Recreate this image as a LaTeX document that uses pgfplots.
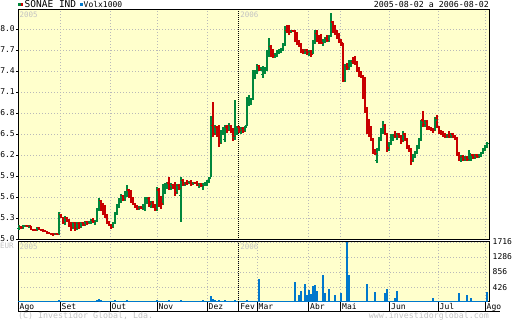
\documentclass[border=0pt]{standalone}
\usepackage{fontspec}
\setmainfont{DejaVu Sans Mono}
\usepackage{pgfplots}
\usepackage{pgfplotstable}
\pgfplotsset{compat=1.18}
\definecolor{bgy}{RGB}{255,255,204}
\definecolor{upg}{RGB}{0,135,60}
\definecolor{dnr}{RGB}{200,0,0}
\definecolor{volb}{RGB}{0,120,204}
\definecolor{gridg}{RGB}{185,185,185}
\definecolor{lgt}{RGB}{195,195,195}

\pgfdeclareplotmark{ohlco}{\pgfpathmoveto{\pgfqpoint{-1.6pt}{0pt}}\pgfpathlineto{\pgfqpoint{0pt}{0pt}}\pgfusepathqstroke}
\pgfdeclareplotmark{ohlcc}{\pgfpathmoveto{\pgfqpoint{0pt}{0pt}}\pgfpathlineto{\pgfqpoint{1.6pt}{0pt}}\pgfusepathqstroke}

\pgfplotstableread{
x o h l c v
19 5.15 5.20 5.13 5.18 30
21 5.18 5.19 5.15 5.16 25
23 5.16 5.20 5.15 5.19 35
25 5.19 5.20 5.17 5.19 20
27 5.19 5.20 5.17 5.18 30
29 5.18 5.20 5.16 5.19 25
31 5.19 5.19 5.13 5.14 40
33 5.14 5.15 5.12 5.13 20
35 5.13 5.14 5.12 5.12 25
37 5.12 5.17 5.12 5.16 35
39 5.16 5.17 5.13 5.14 20
41 5.14 5.15 5.12 5.13 30
43 5.13 5.14 5.11 5.12 25
45 5.12 5.13 5.10 5.11 20
47 5.11 5.11 5.08 5.09 30
49 5.09 5.10 5.07 5.08 25
51 5.08 5.09 5.06 5.07 20
53 5.07 5.08 5.05 5.06 35
55 5.06 5.09 5.06 5.08 25
57 5.08 5.09 5.06 5.07 30
59 5.07 5.38 5.06 5.35 55
61 5.35 5.36 5.30 5.31 40
63 5.31 5.32 5.22 5.24 30
65 5.24 5.33 5.20 5.30 35
67 5.30 5.31 5.25 5.27 25
69 5.27 5.28 5.17 5.19 30
71 5.24 5.25 5.11 5.16 40
73 5.16 5.25 5.14 5.24 25
75 5.24 5.25 5.12 5.15 30
77 5.15 5.24 5.13 5.22 20
79 5.22 5.24 5.15 5.17 35
81 5.17 5.24 5.16 5.23 25
83 5.23 5.24 5.18 5.20 30
85 5.20 5.26 5.19 5.25 20
87 5.25 5.26 5.20 5.22 25
89 5.22 5.26 5.21 5.25 30
91 5.25 5.28 5.22 5.27 25
93 5.27 5.30 5.24 5.25 35
95 5.25 5.27 5.20 5.26 30
97 5.26 5.45 5.25 5.43 60
99 5.42 5.59 5.40 5.55 75
101 5.55 5.56 5.40 5.44 45
103 5.44 5.52 5.35 5.38 35
105 5.38 5.48 5.30 5.33 40
107 5.33 5.36 5.22 5.24 30
109 5.24 5.26 5.18 5.20 35
111 5.20 5.22 5.15 5.17 30
113 5.17 5.25 5.16 5.23 25
115 5.23 5.38 5.22 5.36 45
117 5.36 5.50 5.34 5.48 35
119 5.48 5.58 5.45 5.55 30
121 5.55 5.64 5.52 5.62 40
123 5.62 5.63 5.55 5.57 25
125 5.57 5.68 5.55 5.66 30
127 5.62 5.77 5.60 5.70 45
129 5.70 5.72 5.58 5.60 30
131 5.60 5.70 5.52 5.56 25
133 5.56 5.60 5.48 5.50 35
135 5.50 5.52 5.44 5.46 30
137 5.46 5.48 5.42 5.44 20
139 5.44 5.47 5.42 5.45 25
141 5.45 5.47 5.43 5.44 30
143 5.44 5.50 5.42 5.48 25
145 5.48 5.60 5.40 5.56 35
147 5.56 5.60 5.50 5.58 30
149 5.58 5.60 5.46 5.50 40
151 5.50 5.55 5.44 5.52 25
153 5.52 5.54 5.44 5.48 30
155 5.48 5.50 5.40 5.42 35
157 5.42 5.74 5.40 5.70 50
159 5.70 5.73 5.46 5.52 40
161 5.52 5.62 5.43 5.50 30
163 5.50 5.78 5.48 5.75 35
165 5.75 5.80 5.65 5.78 25
167 5.78 5.82 5.72 5.80 30
169 5.80 5.88 5.70 5.74 45
171 5.74 5.80 5.70 5.78 25
173 5.78 5.79 5.72 5.74 30
175 5.74 5.82 5.62 5.66 35
177 5.66 5.78 5.64 5.76 30
179 5.76 5.78 5.70 5.72 25
181 5.62 5.88 5.25 5.84 70
183 5.84 5.86 5.76 5.78 35
185 5.78 5.82 5.76 5.80 40
187 5.80 5.84 5.77 5.79 25
189 5.79 5.83 5.78 5.82 30
191 5.82 5.84 5.76 5.78 25
193 5.78 5.82 5.77 5.81 30
195 5.81 5.82 5.78 5.80 20
197 5.80 5.83 5.76 5.77 35
199 5.77 5.80 5.73 5.79 25
201 5.79 5.80 5.74 5.76 30
203 5.76 5.80 5.70 5.78 55
205 5.78 5.82 5.76 5.80 30
207 5.80 5.85 5.76 5.83 35
209 5.83 5.89 5.80 5.86 40
211 5.88 6.75 5.88 6.62 160
213 6.62 6.96 6.46 6.50 95
215 6.50 6.63 6.48 6.60 60
217 6.60 6.62 6.45 6.48 40
219 6.48 6.63 6.31 6.36 50
221 6.36 6.55 6.35 6.52 35
223 6.52 6.60 6.48 6.58 30
225 6.42 6.63 6.38 6.60 45
227 6.60 6.63 6.52 6.55 30
229 6.55 6.66 6.54 6.62 35
231 6.62 6.63 6.52 6.56 25
233 6.56 6.58 6.40 6.46 40
235 6.45 6.99 6.41 6.54 55
237 6.54 6.62 6.48 6.60 30
239 6.60 6.62 6.52 6.55 25
241 6.55 6.60 6.50 6.58 30
243 6.58 6.60 6.52 6.54 25
245 6.54 6.62 6.53 6.60 35
247 6.62 7.03 6.62 6.95 45
249 6.95 7.05 6.90 6.98 30
251 6.98 7.02 6.92 6.99 35
253 7.00 7.41 6.98 7.30 40
255 7.30 7.42 7.28 7.38 30
257 7.38 7.50 7.36 7.48 35
259 7.48 7.49 7.40 7.42 668
261 7.42 7.46 7.40 7.44 15
263 7.35 7.47 7.30 7.44 15
265 7.42 7.46 7.36 7.45 15
267 7.45 7.70 7.40 7.66 15
269 7.66 7.87 7.60 7.75 15
271 7.75 7.77 7.60 7.64 15
273 7.64 7.72 7.58 7.62 15
275 7.62 7.66 7.59 7.64 15
277 7.64 7.70 7.60 7.68 15
279 7.68 7.72 7.64 7.70 15
281 7.70 7.73 7.66 7.71 15
283 7.71 7.80 7.68 7.78 15
285 7.78 8.04 7.76 7.98 15
287 7.98 8.06 7.94 7.96 15
289 8.00 8.06 7.92 7.95 15
291 7.95 7.99 7.94 7.98 15
293 7.98 7.99 7.95 7.97 15
295 7.97 7.98 7.82 7.85 563
297 7.85 7.96 7.77 7.80 15
299 7.80 7.84 7.74 7.76 190
301 7.76 7.80 7.66 7.70 305
303 7.70 7.72 7.64 7.68 15
305 7.68 7.72 7.64 7.70 505
307 7.70 7.72 7.63 7.66 190
309 7.66 7.70 7.62 7.68 333
311 7.68 7.70 7.60 7.64 220
313 7.64 7.84 7.64 7.80 448
315 7.80 7.98 7.78 7.94 477
317 7.94 7.98 7.82 7.86 305
319 7.86 7.92 7.78 7.82 15
321 7.88 7.93 7.78 7.80 15
323 7.80 7.86 7.76 7.82 763
325 7.82 7.88 7.80 7.86 257
327 7.86 7.91 7.81 7.84 15
329 7.84 7.92 7.82 7.90 362
331 7.90 8.23 7.88 8.10 15
333 8.10 8.12 7.94 7.98 15
335 7.98 8.05 7.92 7.96 190
337 7.96 7.98 7.86 7.90 15
339 7.90 7.94 7.80 7.84 15
341 7.84 7.86 7.76 7.80 257
343 7.78 7.80 7.24 7.26 15
345 7.26 7.50 7.24 7.46 15
347 7.46 7.52 7.42 7.45 1716
349 7.45 7.55 7.42 7.52 763
351 7.52 7.56 7.45 7.54 15
353 7.54 7.60 7.50 7.52 15
355 7.56 7.62 7.48 7.50 15
357 7.50 7.54 7.38 7.42 15
359 7.42 7.46 7.32 7.36 15
361 7.36 7.40 7.30 7.32 15
363 7.32 7.34 7.00 7.05 15
365 7.05 7.32 6.80 6.86 15
367 6.86 6.88 6.50 6.55 505
369 6.70 6.72 6.46 6.50 15
371 6.50 6.62 6.40 6.42 15
373 6.42 6.44 6.22 6.26 15
375 6.26 6.28 6.20 6.22 276
377 6.12 6.30 6.08 6.28 15
379 6.28 6.46 6.26 6.42 15
381 6.42 6.58 6.40 6.56 15
383 6.56 6.68 6.50 6.62 15
385 6.62 6.64 6.48 6.50 248
387 6.50 6.52 6.24 6.30 362
389 6.30 6.38 6.26 6.36 15
391 6.36 6.50 6.34 6.46 15
393 6.46 6.50 6.40 6.48 15
395 6.48 6.54 6.44 6.46 105
397 6.46 6.52 6.42 6.50 305
399 6.50 6.52 6.44 6.46 15
401 6.46 6.48 6.36 6.40 15
403 6.40 6.54 6.38 6.50 15
405 6.50 6.52 6.40 6.42 15
407 6.42 6.44 6.28 6.32 15
409 6.32 6.34 6.24 6.28 15
411 6.28 6.30 6.06 6.12 15
413 6.12 6.22 6.10 6.18 15
415 6.18 6.26 6.16 6.24 15
417 6.24 6.34 6.22 6.30 15
419 6.30 6.44 6.28 6.42 15
421 6.42 6.70 6.40 6.66 15
423 6.70 6.83 6.60 6.64 15
425 6.64 6.70 6.60 6.68 15
427 6.68 6.70 6.56 6.60 15
429 6.60 6.62 6.55 6.57 15
431 6.57 6.60 6.54 6.56 15
433 6.56 6.58 6.52 6.55 105
435 6.55 6.74 6.54 6.70 15
437 6.72 6.77 6.58 6.60 15
439 6.60 6.62 6.50 6.54 15
441 6.54 6.56 6.48 6.50 15
443 6.50 6.54 6.46 6.48 15
445 6.48 6.52 6.44 6.46 15
447 6.46 6.50 6.44 6.48 15
449 6.48 6.54 6.44 6.46 15
451 6.46 6.52 6.44 6.50 15
453 6.50 6.52 6.44 6.46 15
455 6.46 6.48 6.42 6.44 15
457 6.44 6.46 6.18 6.22 15
459 6.22 6.24 6.12 6.16 248
461 6.16 6.20 6.10 6.18 15
463 6.18 6.20 6.12 6.14 15
465 6.14 6.18 6.12 6.16 15
467 6.16 6.18 6.11 6.13 190
469 6.13 6.27 6.11 6.22 15
471 6.18 6.22 6.12 6.20 105
473 6.20 6.22 6.14 6.16 15
475 6.16 6.22 6.14 6.20 15
477 6.20 6.22 6.15 6.18 15
479 6.18 6.22 6.16 6.21 15
481 6.21 6.24 6.17 6.23 15
483 6.23 6.30 6.22 6.28 15
485 6.28 6.34 6.26 6.32 15
487 6.32 6.38 6.30 6.36 276
}\bars

\pgfplotsset{
 common/.style={
  scale only axis, anchor=south west, xmin=18, xmax=489,
  axis background/.style={fill=bgy},
  axis line style={black, line width=1pt},
  grid style={gridg, dash pattern=on 1pt off 2pt, line width=0.8pt},
  tick style={black, line width=0.8pt},
  /pgf/number format/assume math mode=true,
 },
 ohlcerr/.style={error bars/.cd, y dir=both, y explicit, error mark=none,
   error bar style={#1, line width=1.25pt}},
}

\begin{document}
\begin{tikzpicture}[x=1pt,y=1pt]
\useasboundingbox (0,0) rectangle (512,320);
% price panel
\begin{axis}[common,
  at={(18pt,80pt)}, width=471pt, height=230pt,
  ymin=4.986, ymax=8.271,
  xtick={60,110,157,207,308.5,340.5,389.5,438,485}, xticklabels={},
  xtick style={draw=none},
  xmajorgrids, ymajorgrids,
  ytick={5.0,5.3,5.6,5.9,6.2,6.5,6.8,7.1,7.4,7.7,8.0},
  yticklabels={5.0,5.3,5.6,5.9,6.2,6.5,6.8,7.1,7.4,7.7,8.0},
  ytick pos=left, major tick length=2pt, tick align=outside,
  yticklabel style={font=\fontsize{8}{8}\selectfont, inner sep=1pt},
  extra x ticks={238.7}, extra x tick labels={},
  extra x tick style={grid style={black, dash pattern=on 1pt off 1pt, line width=1pt}},
  unbounded coords=discard,
]
\addplot[upg, only marks, mark=ohlcc, mark options={line width=1.15pt, solid}, ohlcerr=upg]
  table[x=x, y expr={\thisrow{c}<\thisrow{o} ? nan : \thisrow{c}}, y error plus expr=\thisrow{h}-\thisrow{c}, y error minus expr=\thisrow{c}-\thisrow{l}] {\bars};
\addplot[upg, only marks, mark=ohlco, mark options={line width=1.15pt, solid}]
  table[x=x, y expr={\thisrow{c}<\thisrow{o} ? nan : \thisrow{o}}] {\bars};
\addplot[dnr, only marks, mark=ohlcc, mark options={line width=1.15pt, solid}, ohlcerr=dnr]
  table[x=x, y expr={\thisrow{c}<\thisrow{o} ? \thisrow{c} : nan}, y error plus expr=\thisrow{h}-\thisrow{c}, y error minus expr=\thisrow{c}-\thisrow{l}] {\bars};
\addplot[dnr, only marks, mark=ohlco, mark options={line width=1.15pt, solid}]
  table[x=x, y expr={\thisrow{c}<\thisrow{o} ? \thisrow{o} : nan}] {\bars};
\node[anchor=north west, text=lgt, font=\fontsize{7.5}{7.5}\selectfont, inner sep=1.5pt] at (rel axis cs:0,1) {2005};
\node[anchor=north west, text=lgt, font=\fontsize{7.5}{7.5}\selectfont, inner sep=1.5pt] at (axis cs:238.7,8.271) {2006};
\end{axis}
% volume panel
\begin{axis}[common,
  at={(18pt,18pt)}, width=471pt, height=60pt,
  ymin=0, ymax=1716,
  xtick={18,60,110,157,207,238.7,257,308.5,340.5,389.5,438,485},
  xticklabels={Ago,Set,Out,Nov,Dez,Fev,Mar,Abr,Mai,Jun,Jul,Ago},
  xtick pos=bottom, ytick pos=right,
  major tick length=10pt,
  ytick style={draw=none},
  tick align=outside,
  xmajorgrids, ymajorgrids,
  ytick={426,856,1286,1716}, yticklabels={426,856,1286,1716},
  yticklabel style={font=\fontsize{8}{8}\selectfont, inner sep=1pt, xshift=-7.5pt},
  xticklabel style={font=\fontsize{8}{8}\selectfont, anchor=north west, inner sep=0pt, xshift=1.5pt, yshift=8.8pt},
]
\addplot[ycomb, volb, line width=1.1pt, no marks] table[x=x, y=v] {\bars};
\draw[black, dash pattern=on 1pt off 1pt, line width=1pt] (axis cs:238.7,0) -- (axis cs:238.7,1716);
\node[anchor=north west, text=lgt, font=\fontsize{7.5}{7.5}\selectfont, inner sep=1.5pt] at (rel axis cs:0,1) {2005};
\node[anchor=north west, text=lgt, font=\fontsize{7.5}{7.5}\selectfont, inner sep=1.5pt] at (axis cs:238.7,1716) {2006};
\end{axis}
\draw[black, line width=1pt] (18,8) -- (500,8);
\node[anchor=north west, text=lgt, font=\fontsize{7.5}{7.5}\selectfont, inner sep=0pt] at (0,77) {EUR};
% header
\fill[upg] (18,313.5) rectangle (20.7,317);
\fill[dnr] (20.7,313.5) rectangle (23.4,317);
\node[anchor=base west, inner sep=0pt, font=\fontsize{9.5}{9.5}\selectfont] at (24.5,312.5) {SONAE IND};
\fill[volb] (80,313.5) rectangle (82.7,317);
\node[anchor=base west, inner sep=0pt, font=\fontsize{8}{8}\selectfont] at (83.5,312.5) {Volx1000};
\node[anchor=base east, inner sep=0pt, font=\fontsize{8.3}{8.3}\selectfont] at (489,312.5) {2005-08-02 a 2006-08-02};
% footer
\node[anchor=base west, inner sep=0pt, text=lgt, font=\fontsize{8.3}{8.3}\selectfont] at (18,1.5) {(C) Investidor Global, Lda.};
\node[anchor=base east, inner sep=0pt, text=lgt, font=\fontsize{8.3}{8.3}\selectfont] at (489,1.5) {www.investidorglobal.com};
\end{tikzpicture}
\end{document}
